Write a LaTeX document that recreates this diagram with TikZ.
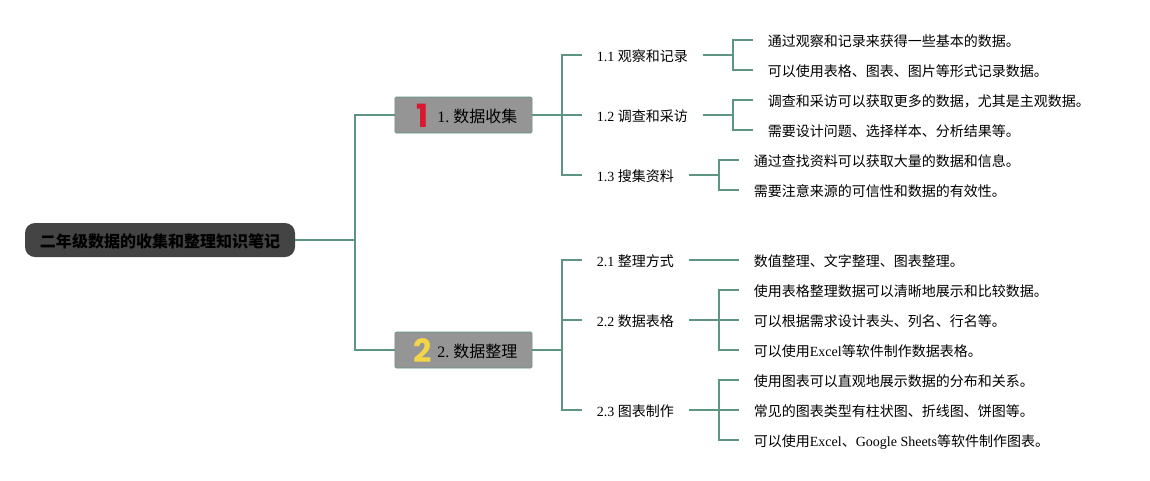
\documentclass[tikz,border=0pt]{standalone}
\usepackage{fontspec}
\setmainfont{Liberation Serif}
\newfontfamily\badgefont{Poppins}
\newfontfamily\cjk{Noto Sans CJK SC}
\newcommand{\zh}[1]{{\cjk #1}}
\usetikzlibrary{positioning}
\definecolor{linkcol}{HTML}{5E9484}
\definecolor{rootcol}{HTML}{444444}
\definecolor{topiccol}{HTML}{959595}
\definecolor{onecol}{HTML}{D9182E}
\definecolor{twocol}{HTML}{F2D648}

\begin{document}
\begin{tikzpicture}[
    x=0.75pt, y=-0.75pt,
    root/.style={rectangle, fill=rootcol, rounded corners=7.5pt, minimum width=202.5pt, minimum height=25.5pt, inner sep=0pt, text height=11.5pt, text depth=1pt, font=\fontsize{12}{14}\selectfont\bfseries},
    topic/.style={rectangle, draw=linkcol, fill=topiccol, rounded corners=1pt, minimum width=103pt, minimum height=27pt, inner sep=0pt},
    badge/.style={inner sep=0pt, font=\badgefont\bfseries\fontsize{24}{24}\selectfont},
    topictext/.style={anchor=west, inner sep=0pt, font=\fontsize{12}{14}\selectfont},
    sub/.style={anchor=west, inner xsep=11pt, inner ysep=2pt, text height=10pt, text depth=0.6pt, font=\fontsize{10.5}{13}\selectfont},
    leaf/.style={sub},
    link/.style={draw=linkcol, line width=1.5pt},
    elbow/.style={to path={-- ++(#1,0) |- (\tikztotarget)}},
    elbow/.default=30
]
\useasboundingbox (0,0) rectangle (1150,480);

\node[root] (r) at (160,240) {\zh{二年级数据的收集和整理知识笔记}};

% topics
\node[topic] (t1) at (463.5,115) {};
\node[topic] (t2) at (463.5,350) {};
\node[badge, text=onecol] (n1) at (423,115.5) {1};
\node[badge, text=twocol] (n2) at (422.5,350.5) {2};
\node[topictext] (l1) at (437,116) {1.\hspace{3pt}\zh{数据收集}};
\node[topictext] (l2) at (437,351) {2.\hspace{3pt}\zh{数据整理}};

% second level
\node[sub] (s11) at (582,55) {1.1 \zh{观察和记录}};
\node[sub] (s12) at (582,115) {1.2 \zh{调查和采访}};
\node[sub] (s13) at (582,175) {1.3 \zh{搜集资料}};
\node[sub] (s21) at (582,260) {2.1 \zh{整理方式}};
\node[sub] (s22) at (582,320) {2.2 \zh{数据表格}};
\node[sub] (s23) at (582,410) {2.3 \zh{图表制作}};

% leaves
\node[leaf] (a1) at (753,40) {\zh{通过观察和记录来获得一些基本的数据。}};
\node[leaf] (a2) at (753,70) {\zh{可以使用表格、图表、图片等形式记录数据。}};
\node[leaf] (b1) at (753,100) {\zh{调查和采访可以获取更多的数据，尤其是主观数据。}};
\node[leaf] (b2) at (753,130) {\zh{需要设计问题、选择样本、分析结果等。}};
\node[leaf] (c1) at (739,160) {\zh{通过查找资料可以获取大量的数据和信息。}};
\node[leaf] (c2) at (739,190) {\zh{需要注意来源的可信性和数据的有效性。}};
\node[leaf] (d1) at (739,260) {\zh{数值整理、文字整理、图表整理。}};
\node[leaf] (e1) at (739,290) {\zh{使用表格整理数据可以清晰地展示和比较数据。}};
\node[leaf] (e2) at (739,320) {\zh{可以根据需求设计表头、列名、行名等。}};
\node[leaf] (e3) at (739,350) {\zh{可以使用}Excel\zh{等软件制作数据表格。}};
\node[leaf] (f1) at (739,380) {\zh{使用图表可以直观地展示数据的分布和关系。}};
\node[leaf] (f2) at (739,410) {\zh{常见的图表类型有柱状图、折线图、饼图等。}};
\node[leaf] (f3) at (739,440) {\zh{可以使用}Excel\zh{、}Google Sheets\zh{等软件制作图表。}};

% connectors
\draw[link] (r.east) to[elbow=60] (t1.west);
\draw[link] (r.east) to[elbow=60] (t2.west);
\draw[link] (t1.east) to[elbow] (s11.west);
\draw[link] (t1.east) -- (s12.west);
\draw[link] (t1.east) to[elbow] (s13.west);
\draw[link] (t2.east) to[elbow] (s21.west);
\draw[link] (t2.east) to[elbow] (s22.west);
\draw[link] (t2.east) to[elbow] (s23.west);
\draw[link] (s11.east) to[elbow] (a1.west);
\draw[link] (s11.east) to[elbow] (a2.west);
\draw[link] (s12.east) to[elbow] (b1.west);
\draw[link] (s12.east) to[elbow] (b2.west);
\draw[link] (s13.east) to[elbow] (c1.west);
\draw[link] (s13.east) to[elbow] (c2.west);
\draw[link] (s21.east) -- (d1.west);
\draw[link] (s22.east) to[elbow] (e1.west);
\draw[link] (s22.east) -- (e2.west);
\draw[link] (s22.east) to[elbow] (e3.west);
\draw[link] (s23.east) to[elbow] (f1.west);
\draw[link] (s23.east) -- (f2.west);
\draw[link] (s23.east) to[elbow] (f3.west);
\end{tikzpicture}
\end{document}
